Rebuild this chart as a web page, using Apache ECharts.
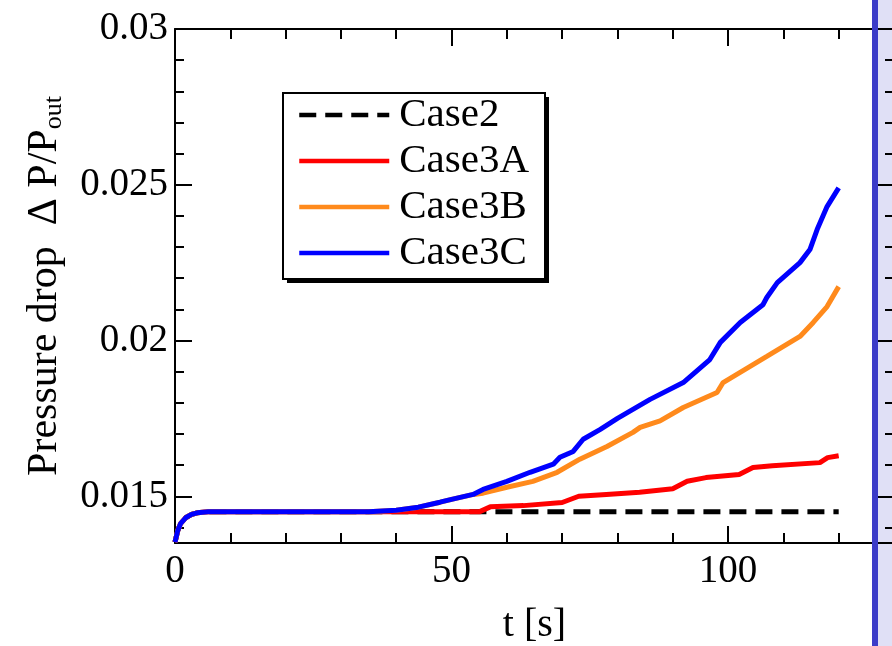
<!DOCTYPE html>
<html>
<head>
<meta charset="utf-8">
<script src="https://cdn.jsdelivr.net/npm/echarts@6/dist/echarts.min.js"></script>
<style>
  html, body { margin: 0; padding: 0; background: #fff; }
  #box { width: 892px; height: 646px; }
</style>
</head>
<body>
<div id="box"></div>
<script>
var myChart = echarts.init(document.getElementById("box"));

// 読み取り値 (t [s], ΔP/Pout)
var case2T = [0, 0.5, 1, 2, 3, 4, 6, 120];
var case2V = [0.01353, 0.0139, 0.01412, 0.01432, 0.01442, 0.01447, 0.0145, 0.0145];

var case3AT = [0, 0.5, 1, 2, 3, 4, 6, 40, 55, 57, 63, 70, 73, 78, 84, 90, 92.6, 96, 102, 104.5, 108, 116.6, 118, 120];
var case3AV = [0.01353, 0.0139, 0.01412, 0.01432, 0.01442, 0.01447, 0.0145, 0.0145, 0.0145, 0.01466, 0.0147, 0.0148, 0.0150, 0.01506, 0.01513, 0.01524, 0.01548, 0.0156, 0.0157, 0.01592, 0.01598, 0.01608, 0.01624, 0.0163];

var case3BT = [0, 0.5, 1, 2, 3, 4, 6, 35, 40, 44, 48, 50, 54, 55.7, 60, 64.7, 69.1, 73.2, 78.1, 82.8, 84.1, 87.7, 91.9, 98, 99.1, 107, 113, 115.4, 117.9, 120];
var case3BV = [0.01353, 0.0139, 0.01412, 0.01432, 0.01442, 0.01447, 0.0145, 0.0145, 0.01455, 0.01465, 0.01481, 0.0149, 0.01506, 0.0151, 0.01529, 0.01548, 0.01577, 0.01619, 0.0166, 0.01705, 0.01721, 0.01742, 0.01785, 0.01833, 0.01865, 0.01949, 0.02013, 0.02058, 0.02109, 0.02173];

var case3CT = [0, 0.5, 1, 2, 3, 4, 6, 35, 40, 44, 47.9, 50, 53.9, 55.7, 60, 64.2, 68.4, 69.6, 72, 73.8, 76.9, 80, 85.9, 91.9, 96.7, 98.6, 102.2, 106.3, 107, 108.9, 113, 114.8, 116.1, 117.9, 120];
var case3CV = [0.01353, 0.0139, 0.01412, 0.01432, 0.01442, 0.01447, 0.0145, 0.0145, 0.01455, 0.01465, 0.01481, 0.0149, 0.01506, 0.01522, 0.01548, 0.01577, 0.01603, 0.01625, 0.01644, 0.01683, 0.01715, 0.0175, 0.01811, 0.01865, 0.01939, 0.01994, 0.02058, 0.02115, 0.02138, 0.02186, 0.0225, 0.02292, 0.02356, 0.0243, 0.0249];

var seriesNames = ['Case2', 'Case3A', 'Case3B', 'Case3C'];
var seriesColors = ['#000000', '#ff0000', '#ff8a1c', '#0000ff'];

var xMajor = [0, 50, 100];
var xMinor = [10, 20, 30, 40, 60, 70, 80, 90, 110, 120];
var yMajor = [0.015, 0.02, 0.025, 0.03];
var yMinor = [0.014, 0.016, 0.017, 0.018, 0.019, 0.021, 0.022, 0.023, 0.024, 0.026, 0.027, 0.028, 0.029];

var FONT = 'Liberation Serif';

function pairs(t, v) {
  var out = [];
  for (var i = 0; i < t.length; i++) out.push([t[i], v[i]]);
  return out;
}

function xAx(pos, ticks, len, withLabel, withLine) {
  return {
    type: 'value', position: pos, min: 0, max: 130,
    axisLine: { show: withLine, onZero: false, lineStyle: { color: '#000', width: 2 } },
    axisTick: { show: true, inside: true, length: len, customValues: ticks, lineStyle: { color: '#000', width: 2 } },
    axisLabel: { show: withLabel, customValues: ticks, color: '#000', fontFamily: FONT, fontSize: 39, margin: 9 },
    splitLine: { show: false }
  };
}
function yAx(pos, ticks, len, withLabel, withLine) {
  return {
    type: 'value', position: pos, min: 0.0135, max: 0.03,
    axisLine: { show: withLine, onZero: false, lineStyle: { color: '#000', width: 2 } },
    axisTick: { show: true, inside: true, length: len, customValues: ticks, lineStyle: { color: '#000', width: 2 } },
    axisLabel: {
      show: withLabel, customValues: ticks, color: '#000', fontFamily: FONT, fontSize: 39, margin: 7,
      formatter: function (v) { return String(+v.toFixed(4)); }
    },
    splitLine: { show: false }
  };
}

var xAxes = [
  xAx('bottom', xMajor, 17, true, true),
  xAx('bottom', xMinor, 10, false, false),
  xAx('top', xMajor, 17, false, true),
  xAx('top', xMinor, 10, false, false)
];
xAxes[0].name = 't [s]';
xAxes[0].nameLocation = 'middle';
xAxes[0].nameGap = 62;
xAxes[0].nameTextStyle = { color: '#000', fontFamily: FONT, fontSize: 40 };

var yAxes = [
  yAx('left', yMajor, 17, true, true),
  yAx('left', yMinor, 9, false, false),
  yAx('right', yMajor, 17, false, true),
  yAx('right', yMinor, 9, false, false)
];
yAxes[0].name = '{a|Pressure drop  Δ P/P}{s|out}';
yAxes[0].nameLocation = 'middle';
yAxes[0].nameGap = 108;
yAxes[0].nameTextStyle = {
  color: '#000', fontFamily: FONT,
  rich: {
    a: { fontSize: 42, fontFamily: FONT, color: '#000', lineHeight: 44, verticalAlign: 'middle' },
    s: { fontSize: 26, fontFamily: FONT, color: '#000', lineHeight: 26, verticalAlign: 'bottom' }
  }
};

var series = [];
var tList = [case2T, case3AT, case3BT, case3CT];
var vList = [case2V, case3AV, case3BV, case3CV];
for (var k = 0; k < 4; k++) {
  series.push({
    name: seriesNames[k],
    type: 'line',
    xAxisIndex: 0, yAxisIndex: 0,
    data: pairs(tList[k], vList[k]),
    symbol: 'none',
    showSymbol: false,
    color: seriesColors[k],
    lineStyle: { color: seriesColors[k], width: 5, type: k === 0 ? [17, 9] : 'solid' }
  });
}

var option = {
  animation: false,
  backgroundColor: '#fff',
  grid: { left: 175, top: 29, width: 719, height: 514, outerBoundsMode: 'none' },
  xAxis: xAxes,
  yAxis: yAxes,
  legend: {
    data: seriesNames,
    orient: 'vertical',
    left: 282, top: 92,
    z: 10,
    padding: [0, 0, 0, 15],
    itemWidth: 90, itemHeight: 2, itemGap: 0,
    itemStyle: { opacity: 0 },
    lineStyle: { width: 4.5 },
    textStyle: { color: '#000', fontFamily: FONT, fontSize: 41, lineHeight: 44, padding: [2, 0, 0, 5] }
  },
  graphic: [
    { type: 'rect', left: 878, top: 0, z: -10, shape: { width: 14, height: 646 }, style: { fill: '#e0e0f6' } },
    { type: 'rect', left: 872, top: 0, z: 100, shape: { width: 6, height: 646 }, style: { fill: '#3c3cc8' } },
    { type: 'rect', left: 287, top: 97, z: 8, shape: { width: 262, height: 186 }, style: { fill: '#000' } },
    { type: 'rect', left: 282, top: 92, z: 9, shape: { x: 0, y: 0, width: 262, height: 186 }, style: { fill: '#fff', stroke: '#000', lineWidth: 2 } }
  ],
  series: series
};
myChart.setOption(option);
</script>
</body>
</html>
